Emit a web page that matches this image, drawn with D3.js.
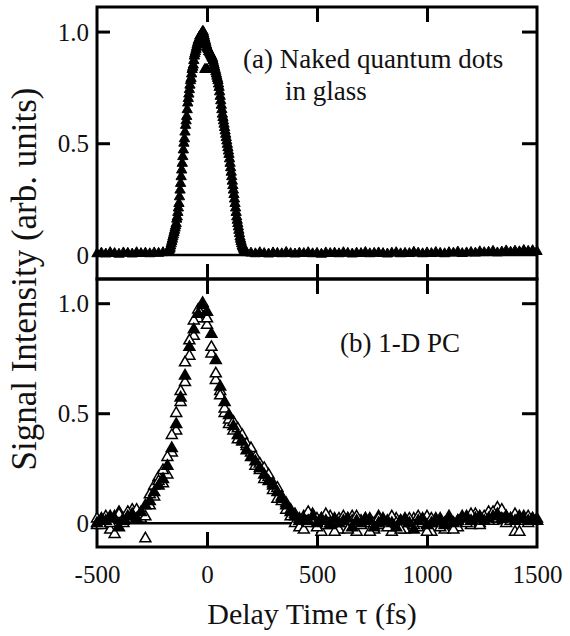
<!DOCTYPE html>
<html><head><meta charset="utf-8">
<script src="https://cdn.jsdelivr.net/npm/d3@7"></script>
<style>body{margin:0;background:#fff}svg{display:block}</style>
</head><body>
<svg id="c" width="570" height="636"></svg>
<script>
// ---- data ----
const xTicks = [-500, 0, 500, 1000, 1500];
const xTickLabels = ["-500", "0", "500", "1000", "1500"];
const yTicks = [0, 0.5, 1.0];
const yTickLabels = ["0", "0.5", "1.0"];

// (a) naked quantum dots in glass : scan 1
const topTime = [].concat(d3.range(-500, -179, 20), d3.range(-175, 181, 5), d3.range(200, 1501, 20));
const topValue = [
 0.005,0.008,0.004,0.01,0.006,0.003,0.009,0.007,0.004,0.01,0.006,0.008,0.005,0.009,0.007,0.01,0.012,
 0.015,0.025,0.04,0.06,0.08,0.10,0.12,0.14,0.17,0.21,0.26,0.32,0.38,0.44,0.50,0.55,0.60,0.65,0.70,0.74,
 0.78,0.81,0.84,0.87,0.90,0.92,0.94,0.96,0.97,0.98,0.99,1.00,
 0.99,0.97,0.95,0.93,0.92,0.91,0.90,0.89,0.88,0.86,0.84,0.82,0.80,0.78,0.75,0.71,0.67,0.63,0.60,0.57,
 0.54,0.51,0.48,0.45,0.41,0.37,0.33,0.29,0.25,0.21,0.17,0.14,0.11,0.08,0.06,0.04,0.03,0.02,0.015,0.01,
 0.008,0.005,0.01,0.006,0.004,0.009,0.007,0.005,0.011,0.006,
 0.004,0.008,0.006,0.01,0.005,0.007,0.003,0.009,0.006,0.008,
 0.005,0.01,0.007,0.004,0.008,0.006,0.011,0.005,0.007,0.009,
 0.006,0.004,0.008,0.01,0.005,0.007,0.006,0.012,0.008,0.005,
 0.009,0.006,0.011,0.007,0.005,0.01,0.008,0.013,0.006,0.009,
 0.011,0.008,0.014,0.01,0.012,0.016,0.009,0.013,0.018,0.012,
 0.017,0.014,0.02,0.016,0.019,0.015
];
// scan 2 (peak region only)
const topScan2Time = [].concat(d3.range(-172.5, 180, 5), [-10, -5, 0]);
const topScan2Value = [
 0.02,0.03,0.05,0.07,0.09,0.11,0.13,0.16,0.19,0.23,0.29,0.35,0.41,0.47,0.52,0.58,0.62,0.68,0.72,0.76,
 0.79,0.83,0.85,0.89,0.91,0.93,0.95,0.96,0.98,0.985,0.99,1.00,0.98,0.96,0.94,0.925,0.91,0.905,0.895,0.885,
 0.87,0.85,0.83,0.81,0.79,0.765,0.73,0.69,0.65,0.615,0.585,0.555,0.525,0.495,0.465,0.43,0.39,0.35,0.31,0.27,
 0.23,0.19,0.155,0.125,0.095,0.07,0.05,0.035,0.025,0.018,0.012,
 0.83,0.83,0.83
];

// (b) 1-D PC : three overlapping scans
const botTime = d3.range(-500, 1501, 20);
const botOpenA = [
 0.02,-0.01,0.03,0.00,-0.05,0.04,0.02,0.05,0.03,0.06,0.04,
 0.03,0.13,0.17,0.19,0.24,0.30,0.40,0.50,0.60,0.73,0.83,0.92,0.97,1.00,
 0.93,0.80,0.68,0.58,0.52,0.47,0.46,0.43,0.40,0.36,0.34,0.30,0.27,0.25,0.22,0.18,0.16,0.12,0.09,0.06,0.04,0.02,
 0.03,0.05,0.01,-0.02,0.02,0.04,0.00,-0.04,0.02,0.03,
 -0.03,0.01,0.03,-0.01,0.02,-0.04,0.00,0.02,0.01,-0.02,
 0.03,0.00,-0.03,0.01,0.02,-0.01,0.03,0.00,-0.04,0.02,
 0.01,-0.02,0.00,0.03,-0.03,0.01,0.02,0.00,0.04,0.02,
 -0.01,0.03,0.01,0.05,0.02,0.06,0.03,0.01,0.04,-0.04,
 0.02,0.03,0.01,0.02
];
const botFilled = [
 0.00,0.02,0.01,0.03,0.02,-0.02,0.01,0.03,0.04,0.02,0.05,
 0.08,0.10,0.14,0.17,0.20,0.26,0.34,0.45,0.57,0.67,0.80,0.88,0.95,0.99,
 0.96,0.86,0.74,0.62,0.55,0.49,0.44,0.40,0.37,0.33,0.30,0.28,0.25,0.22,0.19,0.17,0.14,0.11,0.08,0.05,0.03,0.01,
 0.02,0.01,0.03,0.00,0.02,0.01,-0.01,0.02,0.00,0.01,
 0.02,-0.02,0.01,0.00,0.02,0.01,-0.02,0.00,0.02,0.01,
 0.00,-0.02,0.01,0.02,0.00,-0.03,0.01,0.02,-0.01,0.00,
 0.02,0.01,-0.01,0.02,0.00,0.01,0.02,0.03,0.01,0.02,
 0.03,0.01,0.02,0.03,0.04,0.02,0.03,0.02,0.01,0.03,
 0.02,0.01,0.02,0.01
];
const botOpenB = [
 -0.01,0.01,0.00,-0.03,0.03,0.05,0.00,0.02,0.06,0.04,0.02,
 -0.07,0.08,0.12,0.21,0.18,0.22,0.32,0.42,0.55,0.64,0.76,0.85,0.93,0.98,
 0.90,0.77,0.65,0.60,0.50,0.45,0.42,0.38,0.38,0.35,0.32,0.26,0.24,0.20,0.21,0.15,0.11,0.10,0.06,0.03,0.00,-0.02,
 -0.03,0.00,0.04,0.02,-0.04,-0.01,0.03,0.01,-0.03,0.00,
 0.02,0.03,-0.04,0.01,0.00,0.02,-0.03,0.03,-0.01,0.00,
 -0.04,0.02,0.01,-0.03,0.00,0.02,-0.02,0.01,0.03,-0.04,
 0.00,0.02,-0.03,0.01,0.00,-0.02,0.03,0.01,-0.01,0.04,
 0.00,0.02,0.05,0.01,0.07,0.03,0.00,0.02,-0.04,0.01,
 0.03,0.00,0.02,0.01
];

// ---- layout ----
const L = 97, R = 537, T1 = 7, B1 = 279, T2 = 279, B2 = 547;
const FONT = "'Liberation Serif', 'Times New Roman', Times, serif";
const svg = d3.select("#c");

const x = d3.scaleLinear().domain([-500, 1500]).range([L, R]);
const yTop = d3.scaleLinear().domain([-0.108, 1.11]).range([B1, T1]);
const yBot = d3.scaleLinear().domain([-0.108, 1.11]).range([B2, T2]);

function panel(y, top, bottom, showXLabels) {
  const g = svg.append("g");
  g.append("line").attr("x1", L).attr("x2", R).attr("y1", y(0)).attr("y2", y(0))
    .attr("stroke", "#000").attr("stroke-width", 2.5);
  const la = g.append("g").attr("transform", `translate(${L},0)`)
    .call(d3.axisLeft(y).tickValues(yTicks).tickSize(-13).tickPadding(8)
      .tickFormat((d, i) => yTickLabels[i]));
  const ra = g.append("g").attr("transform", `translate(${R},0)`)
    .call(d3.axisRight(y).tickValues(yTicks.slice(1)).tickSize(-15).tickFormat(""));
  const ta = g.append("g").attr("transform", `translate(0,${top})`)
    .call(d3.axisTop(x).tickValues(xTicks.slice(1, 4)).tickSize(-15).tickFormat(""));
  const ba = g.append("g").attr("transform", `translate(0,${bottom})`)
    .call(d3.axisBottom(x).tickValues(showXLabels ? xTicks : xTicks.slice(1, 4))
      .tickSize(-15).tickPadding(18)
      .tickFormat(showXLabels ? (d, i) => xTickLabels[i] : ""));
  [la, ra, ta, ba].forEach(a => {
    a.select(".domain").remove();
    a.selectAll(".tick line").attr("stroke", "#000").attr("stroke-width", 3);
    a.selectAll("text").attr("font-family", FONT).attr("font-size", 25).attr("fill", "#111");
  });
  la.selectAll("text").attr("dy", "0.34em");
  ba.selectAll(".tick").filter(d => d === -500 || d === 1500).select("line").remove();
  return g;
}

panel(yTop, T1, B1, false);
panel(yBot, T2, B2, true);

svg.append("rect").attr("x", L).attr("y", T1).attr("width", R - L).attr("height", B1 - T1)
  .attr("fill", "none").attr("stroke", "#000").attr("stroke-width", 3);
svg.append("rect").attr("x", L).attr("y", T2).attr("width", R - L).attr("height", B2 - T2)
  .attr("fill", "none").attr("stroke", "#000").attr("stroke-width", 3);

// markers
const triTop = d3.symbol().type(d3.symbolTriangle).size(46);
const triBot = d3.symbol().type(d3.symbolTriangle).size(52);

const topData = topTime.map((t, i) => ({t, v: topValue[i]}))
  .concat(topScan2Time.map((t, i) => ({t, v: topScan2Value[i]})));
svg.append("g").selectAll("path").data(topData).join("path")
  .attr("d", triTop)
  .attr("transform", d => `translate(${x(d.t)},${yTop(d.v)})`)
  .attr("fill", "#000").attr("stroke", "#000").attr("stroke-width", 1);

function botSeries(vals, filled) {
  svg.append("g").selectAll("path").data(botTime.map((t, i) => ({t, v: vals[i]}))).join("path")
    .attr("d", triBot)
    .attr("transform", d => `translate(${x(d.t)},${yBot(d.v)})`)
    .attr("fill", filled ? "#000" : "#fff")
    .attr("stroke", "#000").attr("stroke-width", 1.5);
}
botSeries(botOpenB, false);
botSeries(botOpenA, false);
botSeries(botFilled, true);

// annotations
svg.append("text").attr("x", 243).attr("y", 68).attr("font-family", FONT).attr("font-size", 27)
  .attr("fill", "#111").text("(a) Naked quantum dots");
svg.append("text").attr("x", 285).attr("y", 100).attr("font-family", FONT).attr("font-size", 27)
  .attr("fill", "#111").text("in glass");
svg.append("text").attr("x", 340).attr("y", 352).attr("font-family", FONT).attr("font-size", 27)
  .attr("fill", "#111").text("(b) 1-D PC");

// axis titles
svg.append("text").attr("x", 312).attr("y", 624).attr("text-anchor", "middle")
  .attr("font-family", FONT).attr("font-size", 30).attr("fill", "#111")
  .text("Delay Time \u03C4 (fs)");
svg.append("text").attr("transform", "translate(36,279) rotate(-90)").attr("text-anchor", "middle")
  .attr("font-family", FONT).attr("font-size", 35).attr("fill", "#111")
  .text("Signal Intensity (arb. units)");
</script>
</body></html>
